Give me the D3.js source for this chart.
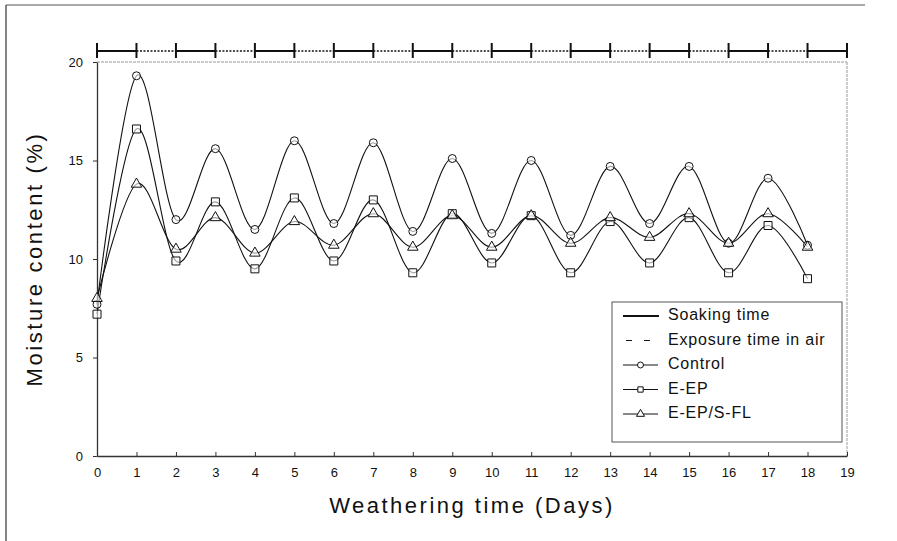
<!DOCTYPE html>
<html>
<head>
<meta charset="utf-8">
<script src="https://cdn.jsdelivr.net/npm/d3@7"></script>
<style>
  body { margin: 0; background: #fff; }
  svg text { font-family: "Liberation Sans", Arial, sans-serif; fill: #111; }
</style>
</head>
<body>
<svg id="chart" width="897" height="541"></svg>
<script>
// values
const days = [0, 1, 2, 3, 4, 5, 6, 7, 8, 9, 10, 11, 12, 13, 14, 15, 16, 17, 18];
const control = [7.7, 19.3, 12.0, 15.6, 11.5, 16.0, 11.8, 15.9, 11.4, 15.1, 11.3, 15.0, 11.2, 14.7, 11.8, 14.7, 10.8, 14.1, 10.7];
const eEP = [7.2, 16.6, 9.9, 12.9, 9.5, 13.1, 9.9, 13.0, 9.3, 12.3, 9.8, 12.2, 9.3, 11.9, 9.8, 12.1, 9.3, 11.7, 9.0];
const eEPsFL = [8.0, 13.8, 10.5, 12.1, 10.3, 11.9, 10.7, 12.3, 10.6, 12.2, 10.6, 12.2, 10.8, 12.1, 11.1, 12.3, 10.8, 12.3, 10.6];
const xTicks = d3.range(0, 20);
const yTicks = [0, 5, 10, 15, 20];

const series = [
  {name: 'Control', values: control, marker: 'circle'},
  {name: 'E-EP', values: eEP, marker: 'square'},
  {name: 'E-EP/S-FL', values: eEPsFL, marker: 'triangle'}
];

const svg = d3.select('#chart');
const margin = {top: 62, right: 50, bottom: 85, left: 97};
const W = 897, H = 541;

const x = d3.scaleLinear().domain([0, 19]).range([margin.left, W - margin.right]);
const y = d3.scaleLinear().domain([0, 20]).range([H - margin.bottom, margin.top]);

// outer frame bits of the scanned figure
svg.append('line').attr('x1', 6).attr('x2', 865).attr('y1', 5).attr('y2', 5)
  .attr('stroke', '#555').attr('stroke-width', 1);
svg.append('line').attr('x1', 6).attr('x2', 6).attr('y1', 5).attr('y2', H)
  .attr('stroke', '#333').attr('stroke-width', 1.2);

// plot box top / right (light)
svg.append('line').attr('x1', x(0)).attr('x2', x(19)).attr('y1', y(20)).attr('y2', y(20))
  .attr('stroke', '#999').attr('stroke-width', 1).attr('stroke-dasharray', '3,1');
svg.append('line').attr('x1', x(19)).attr('x2', x(19)).attr('y1', y(20)).attr('y2', y(0))
  .attr('stroke', '#999').attr('stroke-width', 1).attr('stroke-dasharray', '3,1');

// axes
const xAxis = d3.axisBottom(x).tickValues(xTicks).tickSize(-4).tickSizeOuter(0).tickPadding(12);
const yAxis = d3.axisLeft(y).tickValues(yTicks).tickSize(4).tickSizeOuter(0).tickPadding(10);

const gx = svg.append('g').attr('transform', `translate(0,${y(0)})`).call(xAxis);
const gy = svg.append('g').attr('transform', `translate(${x(0)},0)`).call(yAxis);
[gx, gy].forEach(g => {
  g.select('.domain').attr('stroke', '#333').attr('stroke-width', 1.3);
  g.selectAll('.tick line').attr('stroke', '#333');
  g.selectAll('.tick text').attr('font-size', 13).attr('fill', '#222')
    .attr('font-family', '"Liberation Sans", Arial, sans-serif');
});

// axis titles
svg.append('text')
  .attr('transform', `translate(36,${(y(0) + y(20)) / 2}) rotate(-90)`)
  .attr('text-anchor', 'middle').attr('dominant-baseline', 'middle')
  .attr('font-size', 22).attr('letter-spacing', 2.6)
  .text('Moisture content (%)');
svg.append('text')
  .attr('x', (x(0) + x(19)) / 2).attr('y', 513)
  .attr('text-anchor', 'middle')
  .attr('font-size', 22).attr('letter-spacing', 2.5)
  .text('Weathering time (Days)');

// soaking / exposure bar above the plot
const barY = 51;
const bar = svg.append('g');
d3.range(0, 19).forEach(d => {
  const soak = d % 2 === 0;
  bar.append('line')
    .attr('x1', x(d)).attr('x2', x(d + 1)).attr('y1', barY).attr('y2', barY)
    .attr('stroke', '#111')
    .attr('stroke-width', soak ? 2 : 1.5)
    .attr('stroke-dasharray', soak ? null : '2,1.5');
});
bar.selectAll('.btick').data(xTicks).join('line')
  .attr('x1', d => x(d)).attr('x2', d => x(d))
  .attr('y1', barY - 8).attr('y2', barY + 7)
  .attr('stroke', '#111').attr('stroke-width', 2);

// curves
const line = d3.line()
  .x((v, i) => x(days[i]))
  .y(v => y(v))
  .curve(d3.curveCardinal.tension(0));

const sym = {
  circle: d3.symbol().type(d3.symbolCircle).size(50),
  square: d3.symbol().type(d3.symbolSquare).size(64),
  triangle: d3.symbol().type(d3.symbolTriangle).size(48)
};

series.forEach(s => {
  svg.append('path').datum(s.values)
    .attr('d', line).attr('fill', 'none')
    .attr('stroke', '#111').attr('stroke-width', 1.1);
});
series.forEach(s => {
  svg.append('g').selectAll('path').data(s.values).join('path')
    .attr('transform', (v, i) => `translate(${x(days[i])},${y(v)})`)
    .attr('d', sym[s.marker]())
    .attr('fill', '#fff').attr('fill-opacity', 0.6)
    .attr('stroke', '#111').attr('stroke-width', 1);
});

// legend
const lg = svg.append('g');
const lx = 612, ly = 302, lw = 230, lh = 140;
lg.append('rect').attr('x', lx).attr('y', ly).attr('width', lw).attr('height', lh)
  .attr('fill', '#fff').attr('stroke', '#555').attr('stroke-width', 1);

const legendItems = [
  {label: 'Soaking time', kind: 'soak'},
  {label: 'Exposure time in air', kind: 'expo'},
  {label: 'Control', kind: 'circle'},
  {label: 'E-EP', kind: 'square'},
  {label: 'E-EP/S-FL', kind: 'triangle'}
];
const rowY = i => ly + 14 + i * 24.5;
legendItems.forEach((it, i) => {
  const yy = rowY(i);
  const g = lg.append('g');
  if (it.kind === 'soak') {
    g.append('line').attr('x1', 623).attr('x2', 659).attr('y1', yy).attr('y2', yy)
      .attr('stroke', '#111').attr('stroke-width', 2.2);
  } else if (it.kind === 'expo') {
    g.append('line').attr('x1', 626).attr('x2', 652).attr('y1', yy).attr('y2', yy)
      .attr('stroke', '#111').attr('stroke-width', 1).attr('stroke-dasharray', '6,12');
  } else {
    g.append('line').attr('x1', 623).attr('x2', 658).attr('y1', yy).attr('y2', yy)
      .attr('stroke', '#111').attr('stroke-width', 1);
    g.append('path').attr('transform', `translate(640.5,${yy})`)
      .attr('d', d3.symbol().type(it.kind === 'circle' ? d3.symbolCircle
        : it.kind === 'square' ? d3.symbolSquare : d3.symbolTriangle).size(28)())
      .attr('fill', '#fff').attr('stroke', '#111').attr('stroke-width', 1);
  }
  g.append('text').attr('x', 668).attr('y', yy).attr('dominant-baseline', 'middle')
    .attr('font-size', 16).attr('letter-spacing', 0.8).text(it.label);
});
</script>
</body>
</html>
